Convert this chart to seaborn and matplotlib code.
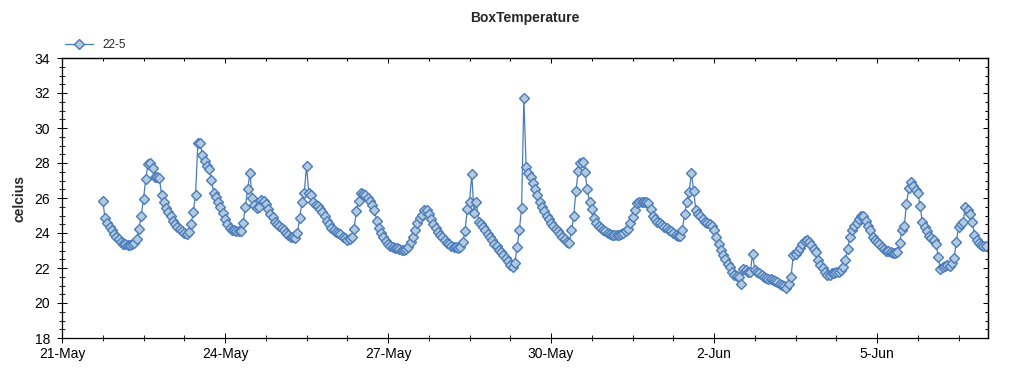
import pandas as pd
import numpy as np
import seaborn as sns
import matplotlib.pyplot as plt
import matplotlib.dates as mdates
from matplotlib.ticker import AutoMinorLocator, MultipleLocator, NullFormatter

# hourly readings of sensor 22-5, starting 21-May 18:00
start = '2022-05-21 18:00'
may21 = [25.85, 24.85, 24.55, 24.35, 24.15, 23.95]
may22 = [23.8, 23.65, 23.5, 23.4, 23.35, 23.3, 23.3, 23.35, 23.45, 23.65, 24.25, 25.0,
         25.95, 27.1, 27.95, 28.0, 27.7, 27.2, 27.2, 27.15, 26.15, 25.75, 25.45, 25.2]
may23 = [24.95, 24.7, 24.5, 24.35, 24.25, 24.1, 24.0, 23.95, 24.05, 24.5, 25.2, 26.2,
         29.15, 29.15, 28.45, 28.1, 27.85, 27.65, 27.05, 26.3, 26.05, 25.8, 25.5, 25.15]
may24 = [24.8, 24.5, 24.3, 24.2, 24.15, 24.1, 24.1, 24.1, 24.6, 25.5, 26.5, 27.45,
         26.0, 25.6, 25.45, 25.5, 25.9, 25.85, 25.65, 25.4, 25.1, 24.9, 24.65, 24.5]
may25 = [24.4, 24.3, 24.15, 24.0, 23.9, 23.8, 23.75, 23.7, 24.0, 24.85, 25.8, 26.3,
         27.85, 26.3, 26.2, 25.75, 25.6, 25.55, 25.4, 25.2, 24.95, 24.7, 24.5, 24.3]
may26 = [24.15, 24.05, 24.0, 23.95, 23.8, 23.7, 23.6, 23.65, 23.8, 24.25, 25.25, 25.85,
         26.3, 26.25, 26.15, 26.0, 25.85, 25.6, 25.3, 24.7, 24.3, 24.0, 23.75, 23.55]
may27 = [23.35, 23.25, 23.2, 23.15, 23.15, 23.1, 23.05, 23.05, 23.1, 23.2, 23.5, 23.75,
         24.15, 24.6, 24.85, 25.05, 25.3, 25.3, 25.1, 24.8, 24.5, 24.3, 24.05, 23.9]
may28 = [23.75, 23.6, 23.45, 23.35, 23.25, 23.2, 23.2, 23.15, 23.2, 23.5, 24.1, 25.35,
         25.8, 27.35, 25.15, 25.8, 24.65, 24.5, 24.35, 24.15, 23.95, 23.75, 23.6, 23.4]
may29 = [23.25, 23.05, 22.9, 22.75, 22.55, 22.4, 22.2, 22.05, 22.3, 23.2, 24.15, 25.45,
         31.7, 27.8, 27.45, 27.2, 26.85, 26.5, 26.15, 25.75, 25.5, 25.25, 25.0, 24.8]
may30 = [24.6, 24.4, 24.25, 24.1, 23.95, 23.8, 23.65, 23.5, 23.45, 24.15, 24.95, 26.4,
         27.55, 28.0, 28.05, 27.5, 26.5, 25.75, 25.35, 24.85, 24.6, 24.4, 24.3, 24.2]
may31 = [24.1, 24.0, 23.95, 23.9, 23.9, 23.9, 23.9, 23.95, 24.0, 24.1, 24.25, 24.55,
         24.9, 25.3, 25.7, 25.8, 25.8, 25.8, 25.8, 25.7, 25.35, 24.95, 24.8, 24.65]
jun01 = [24.55, 24.45, 24.35, 24.3, 24.2, 24.1, 24.0, 23.9, 23.85, 23.85, 24.2, 25.1,
         25.8, 26.35, 27.45, 26.4, 25.3, 25.1, 24.95, 24.8, 24.65, 24.55, 24.5, 24.4]
jun02 = [24.2, 23.8, 23.35, 23.05, 22.75, 22.5, 22.25, 22.05, 21.8, 21.6, 21.55, 21.5,
         21.1, 21.95, 21.9, 21.8, 21.75, 22.8, 21.9, 21.75, 21.7, 21.6, 21.5, 21.45]
jun03 = [21.4, 21.35, 21.3, 21.25, 21.2, 21.1, 21.05, 20.95, 20.85, 21.1, 21.5, 22.75,
         22.8, 22.95, 23.15, 23.35, 23.55, 23.6, 23.5, 23.3, 23.1, 22.9, 22.45, 22.2]
jun04 = [22.0, 21.8, 21.6, 21.6, 21.7, 21.7, 21.75, 21.8, 21.9, 22.05, 22.45, 23.1,
         23.8, 24.2, 24.4, 24.55, 24.8, 24.95, 25.0, 24.7, 24.4, 24.15, 23.8, 23.6]
jun05 = [23.5, 23.35, 23.2, 23.1, 23.0, 22.95, 22.9, 22.85, 22.85, 22.9, 23.45, 24.2,
         24.4, 25.65, 26.55, 26.9, 26.7, 26.45, 26.3, 25.55, 24.65, 24.35, 24.1, 23.85]
jun06 = [23.7, 23.6, 23.4, 22.65, 21.95, 22.05, 22.1, 22.15, 22.1, 22.3, 22.55, 23.5,
         24.35, 24.5, 24.65, 25.5, 25.3, 25.1, 24.65, 23.9, 23.6, 23.45, 23.3, 23.25]
jun07 = [23.25]

temps = (may21 + may22 + may23 + may24 + may25 + may26 + may27 + may28 + may29 +
         may30 + may31 + jun01 + jun02 + jun03 + jun04 + jun05 + jun06 + jun07)
times = pd.date_range(start, periods=len(temps), freq='h')
df = pd.DataFrame({'time': times, 'celcius': temps})

tick_days = pd.date_range('2022-05-21', '2022-06-05', freq='3D')
x_lo = pd.Timestamp('2022-05-21 00:00')
x_hi = pd.Timestamp('2022-06-07 01:00')

sns.set_style('ticks')
plt.rcParams['font.family'] = ['Liberation Sans', 'DejaVu Sans']

fig = plt.figure(figsize=(10.24, 3.75), dpi=100)
ax = fig.add_axes([62 / 1024, 1 - 338 / 375, (988 - 62) / 1024, (338 - 58) / 375])

sns.lineplot(data=df, x='time', y='celcius', ax=ax, color='#4a7cbc', linewidth=0.9,
             marker='D', markersize=4.8, markerfacecolor='#b3c9dc',
             markeredgecolor='#4a7cbc', markeredgewidth=1.0, label='22-5')

ax.set_xlim(x_lo, x_hi)
ax.set_ylim(18, 34)
ax.set_xticks(tick_days)
ax.xaxis.set_major_formatter(mdates.DateFormatter('%-d-%b'))
ax.xaxis.set_minor_locator(AutoMinorLocator(4))
ax.yaxis.set_major_locator(MultipleLocator(2))
ax.yaxis.set_minor_locator(MultipleLocator(0.5))
ax.tick_params(which='major', direction='inout', length=7, width=0.75,
               labelsize=10, colors='black', top=False, right=False)
ax.tick_params(which='minor', direction='inout', length=4, width=0.75,
               top=False, right=False)
ax.tick_params(axis='x', which='major', pad=3)
ax.tick_params(axis='y', which='major', pad=5)
ax.set_xlabel('')
ax.set_ylabel('')
for s in ax.spines.values():
    s.set_color('black')
    s.set_linewidth(0.9)

# inward ticks on top and right
top = ax.secondary_xaxis('top')
top.set_xticks(mdates.date2num(tick_days))
top.xaxis.set_minor_locator(AutoMinorLocator(4))
top.xaxis.set_major_formatter(NullFormatter())
top.tick_params(which='major', direction='in', length=3.6, width=0.75, colors='black')
top.tick_params(which='minor', direction='in', length=2.2, width=0.75, colors='black')
top.spines['top'].set_linewidth(0.9)

right = ax.secondary_yaxis('right')
right.yaxis.set_major_locator(MultipleLocator(2))
right.yaxis.set_minor_locator(MultipleLocator(0.5))
right.yaxis.set_major_formatter(NullFormatter())
right.tick_params(which='major', direction='in', length=3.6, width=0.75, colors='black')
right.tick_params(which='minor', direction='in', length=2.2, width=0.75, colors='black')
right.spines['right'].set_linewidth(0.9)

ax.legend(loc='center left', bbox_to_anchor=(65 / 1024, 1 - 45 / 375),
          bbox_transform=fig.transFigure, frameon=False, fontsize=8.5,
          borderpad=0, borderaxespad=0, handlelength=2.4, handletextpad=0.75)

fig.text(525 / 1024, 1 - 18 / 375, 'BoxTemperature', ha='center', va='center',
         fontsize=10, fontweight='bold')
fig.text(20 / 1024, 1 - 198 / 375, 'celcius', ha='center', va='center',
         rotation=90, fontsize=10, fontweight='bold')

fig.savefig('out.png', dpi=100, facecolor='white')
